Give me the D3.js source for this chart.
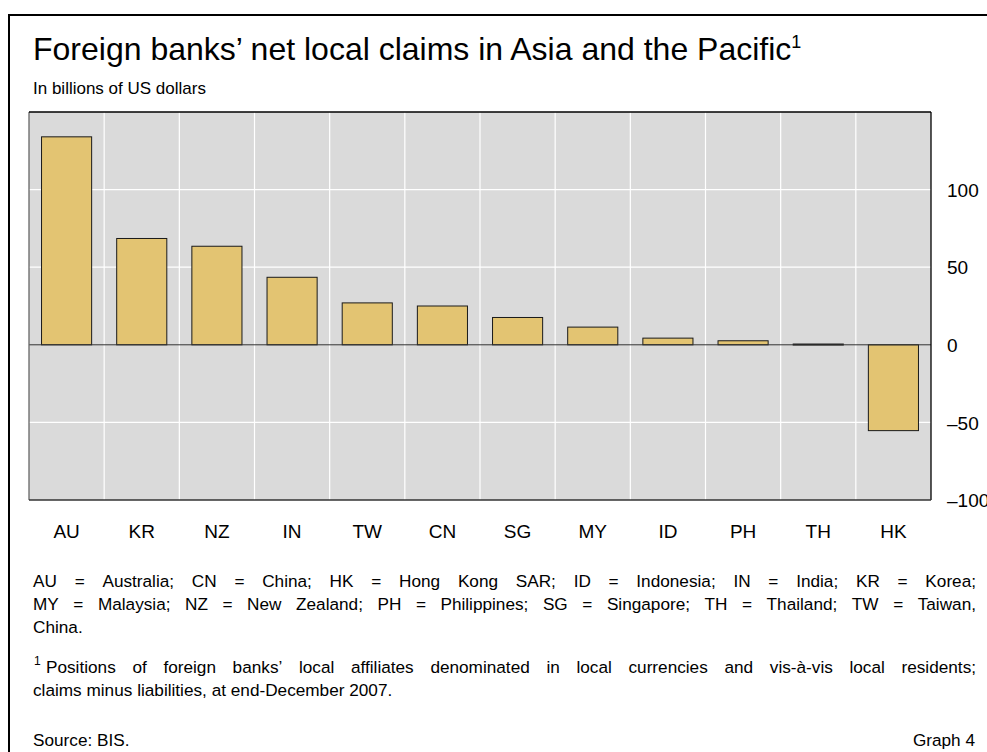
<!DOCTYPE html>
<html>
<head>
<meta charset="utf-8">
<script src="https://cdn.jsdelivr.net/npm/d3@7"></script>
<style>
  html, body { margin: 0; padding: 0; background: #fff; }
  svg { display: block; }
  text { font-family: Arial, "Liberation Sans", sans-serif; fill: #000; }
</style>
</head>
<body>
<svg id="chart" width="987" height="752"></svg>
<script>
// ---- Data ----
const categories = ["AU", "KR", "NZ", "IN", "TW", "CN", "SG", "MY", "ID", "PH", "TH", "HK"];
const values = [134, 68.5, 63.5, 43.5, 27, 25, 17.6, 11.4, 4.3, 2.6, 0.5, -55.3];
const yTicks = [-100, -50, 0, 50, 100];
const yDomain = [-100, 150];

const titleText = "Foreign banks’ net local claims in Asia and the Pacific";
const subtitleText = "In billions of US dollars";
const legendLines = [
  "AU = Australia; CN = China; HK = Hong Kong SAR; ID = Indonesia; IN = India; KR = Korea;",
  "MY = Malaysia; NZ = New Zealand; PH = Philippines; SG = Singapore; TH = Thailand; TW = Taiwan,",
  "China."
];
const footnoteLines = [
  "Positions of foreign banks’ local affiliates denominated in local currencies and vis-à-vis local residents;",
  "claims minus liabilities, at end-December 2007."
];

// ---- Layout ----
const svg = d3.select("#chart");
const plot = { left: 29, right: 931, top: 112, bottom: 500 };
const bodySize = 17.2;

// outer frame (left and top only visible)
svg.append("line").attr("x1", 9).attr("x2", 9).attr("y1", 14).attr("y2", 752)
  .attr("stroke", "#000").attr("stroke-width", 2);
svg.append("line").attr("x1", 8).attr("x2", 987).attr("y1", 15).attr("y2", 15)
  .attr("stroke", "#000").attr("stroke-width", 2);

// Title
const title = svg.append("text").attr("x", 33).attr("y", 60)
  .style("font-size", "32px");
title.append("tspan").text(titleText);
title.append("tspan").attr("dy", -12).style("font-size", "18px").text("1");

svg.append("text").attr("x", 33).attr("y", 94).style("font-size", "17px").text(subtitleText);

// Scales
const x = d3.scaleBand().domain(categories).range([plot.left, plot.right])
  .paddingInner(1/3).paddingOuter(1/6);
const y = d3.scaleLinear().domain(yDomain).range([plot.bottom, plot.top]);
const step = x.step();

// Plot background
svg.append("rect").attr("x", plot.left).attr("y", plot.top)
  .attr("width", plot.right - plot.left).attr("height", plot.bottom - plot.top)
  .attr("fill", "#dadada");

// gridlines
const grid = svg.append("g");
grid.selectAll("line.h").data(yTicks.filter(d => d !== 0 && d > yDomain[0]))
  .join("line").attr("class", "h")
  .attr("x1", plot.left).attr("x2", plot.right)
  .attr("y1", d => y(d)).attr("y2", d => y(d))
  .attr("stroke", "#fff").attr("stroke-width", 1.2);
grid.selectAll("line.v").data(d3.range(1, categories.length))
  .join("line").attr("class", "v")
  .attr("x1", i => plot.left + i * step).attr("x2", i => plot.left + i * step)
  .attr("y1", plot.top).attr("y2", plot.bottom)
  .attr("stroke", "#fff").attr("stroke-width", 1.2);

// bars
svg.append("g").selectAll("rect").data(categories)
  .join("rect")
  .attr("x", (d) => x(d))
  .attr("width", x.bandwidth())
  .attr("y", (d, i) => Math.min(y(values[i]), y(0)))
  .attr("height", (d, i) => Math.max(Math.abs(y(values[i]) - y(0)), 1))
  .attr("fill", "#e3c472")
  .attr("stroke", "#1a1a1a").attr("stroke-width", 1);

// zero line
svg.append("line").attr("x1", plot.left).attr("x2", plot.right)
  .attr("y1", y(0)).attr("y2", y(0)).attr("stroke", "#333").attr("stroke-width", 1);

// plot border
svg.append("line").attr("x1", plot.left).attr("x2", plot.left)
  .attr("y1", plot.top).attr("y2", plot.bottom).attr("stroke", "#666").attr("stroke-width", 1.3);
svg.append("line").attr("x1", plot.left).attr("x2", plot.right)
  .attr("y1", plot.top).attr("y2", plot.top).attr("stroke", "#000").attr("stroke-width", 1.3);
svg.append("line").attr("x1", plot.right).attr("x2", plot.right)
  .attr("y1", plot.top).attr("y2", plot.bottom).attr("stroke", "#000").attr("stroke-width", 1.3);
svg.append("line").attr("x1", plot.left).attr("x2", plot.right)
  .attr("y1", plot.bottom).attr("y2", plot.bottom).attr("stroke", "#333").attr("stroke-width", 1.3);

// y axis (right)
const yAxis = d3.axisRight(y).tickValues(yTicks).tickSize(0).tickPadding(0)
  .tickFormat(d => (d < 0 ? "\u2013" + Math.abs(d) : String(d)));
const ya = svg.append("g").attr("transform", `translate(947,0)`).call(yAxis);
ya.select(".domain").remove();
ya.selectAll("text").style("font-size", "19px").attr("fill", "#000")
  .style("font-family", "Arial, 'Liberation Sans', sans-serif").attr("dy", "0.35em");

// x axis labels
const xAxis = d3.axisBottom(x).tickSize(0).tickPadding(0);
const xa = svg.append("g").attr("transform", `translate(0,531)`).call(xAxis);
xa.select(".domain").remove();
xa.selectAll("text").style("font-size", "19px").attr("fill", "#000")
  .style("font-family", "Arial, 'Liberation Sans', sans-serif").attr("dy", "0.35em");

// justified text helper
function justifyLine(str, x0, x1, yb, justify) {
  const words = str.split(" ");
  const g = svg.append("g");
  const nodes = words.map(w => g.append("text").attr("y", yb).style("font-size", bodySize + "px").text(w));
  const widths = nodes.map(n => n.node().getComputedTextLength());
  const total = d3.sum(widths);
  const spaceW = bodySize * 0.278;
  const gap = justify && words.length > 1 ? (x1 - x0 - total) / (words.length - 1) : spaceW;
  let cx = x0;
  nodes.forEach((n, i) => { n.attr("x", cx); cx += widths[i] + gap; });
}

const L = 33, R = 976;
justifyLine(legendLines[0], L, R, 587, true);
justifyLine(legendLines[1], L, R, 610, true);
justifyLine(legendLines[2], L, R, 633, false);

svg.append("text").attr("x", 34).attr("y", 665).style("font-size", "12px").text("1");
justifyLine(footnoteLines[0], 46, R, 673, true);
justifyLine(footnoteLines[1], L, R, 696, false);

svg.append("text").attr("x", 33).attr("y", 746).style("font-size", bodySize + "px").text("Source: BIS.");
svg.append("text").attr("x", 975).attr("y", 746).attr("text-anchor", "end")
  .style("font-size", bodySize + "px").text("Graph 4");
</script>
</body>
</html>
